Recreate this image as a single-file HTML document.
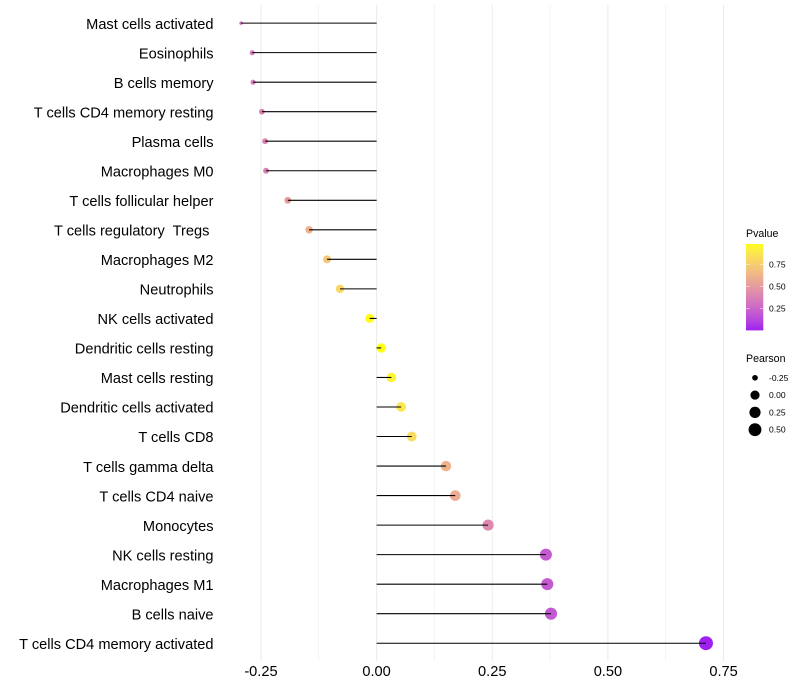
<!DOCTYPE html>
<html>
<head>
<meta charset="utf-8">
<style>
html,body{margin:0;padding:0;background:#fff;width:800px;height:700px;overflow:hidden}
svg{display:block}
text{font-family:"Liberation Sans",sans-serif;white-space:pre}
</style>
</head>
<body>
<svg id="chart" width="800" height="700" viewBox="0 0 800 700" xmlns="http://www.w3.org/2000/svg">
<g id="grid"></g>
<g id="ylabels"></g>
<g id="xlabels"></g>
<g id="marks"></g>
<g id="legend-p">
<defs><linearGradient id="pgrad" x1="0" y1="1" x2="0" y2="0"></linearGradient></defs>
<text x="746" y="237" font-size="10.6" fill="#000">Pvalue</text>
<rect x="746" y="244" width="17.3" height="86.4" fill="url(#pgrad)"></rect>
</g>
<g id="legend-s">
<text x="746" y="362" font-size="10.6" fill="#000">Pearson</text>
</g>
</svg>
<script>
const categories = ["Mast cells activated","Eosinophils","B cells memory","T cells CD4 memory resting","Plasma cells","Macrophages M0","T cells follicular helper","T cells regulatory  Tregs ","Macrophages M2","Neutrophils","NK cells activated","Dendritic cells resting","Mast cells resting","Dendritic cells activated","T cells CD8","T cells gamma delta","T cells CD4 naive","Monocytes","NK cells resting","Macrophages M1","B cells naive","T cells CD4 memory activated"];
const pearson = [-0.293,-0.269,-0.267,-0.248,-0.241,-0.239,-0.192,-0.146,-0.107,-0.079,-0.015,0.010,0.032,0.053,0.076,0.150,0.170,0.241,0.366,0.369,0.377,0.712];
const pvalue = [0.30,0.36,0.36,0.38,0.38,0.38,0.50,0.62,0.72,0.80,0.98,0.99,0.95,0.88,0.82,0.62,0.58,0.42,0.20,0.20,0.19,0.00];
const xTicks = [-0.25,0,0.25,0.5,0.75];
const xMinorTicks = [-0.125,0.125,0.375,0.625];
const xTickLabels = ["-0.25","0.00","0.25","0.50","0.75"];
const colorbarTicks = [0.25,0.5,0.75];
const colorbarLabels = ["0.25","0.50","0.75"];
const sizeTicks = [-0.25,0,0.25,0.5];
const sizeLabels = ["-0.25","0.00","0.25","0.50"];

const NS = "http://www.w3.org/2000/svg";
const x = v => 376.6 + v * 462.6;
const y = i => 23.1 + i * 29.53;
const minP = Math.min(...pearson), maxP = Math.max(...pearson);
const dia = v => 3.5 + 10.5 * Math.sqrt((v - minP) / (maxP - minP));
const cbY = p => 330.4 - p * 87.8;

function el(tag, parent, attrs) {
  const e = document.createElementNS(NS, tag);
  for (const k in attrs) e.setAttribute(k, attrs[k]);
  parent.appendChild(e);
  return e;
}
function toLab(c) {
  const f = u => { u /= 255; return u > 0.04045 ? Math.pow((u + 0.055) / 1.055, 2.4) : u / 12.92; };
  const r = f(c[0]), g = f(c[1]), b = f(c[2]);
  const X = (0.4124 * r + 0.3576 * g + 0.1805 * b) / 0.95047;
  const Y = 0.2126 * r + 0.7152 * g + 0.0722 * b;
  const Z = (0.0193 * r + 0.1192 * g + 0.9505 * b) / 1.08883;
  const h = t => t > 0.008856 ? Math.cbrt(t) : 7.787 * t + 16 / 116;
  return [116 * h(Y) - 16, 500 * (h(X) - h(Y)), 200 * (h(Y) - h(Z))];
}
function fromLab(l) {
  const fy = (l[0] + 16) / 116, fx = fy + l[1] / 500, fz = fy - l[2] / 200;
  const h = t => t * t * t > 0.008856 ? t * t * t : (t - 16 / 116) / 7.787;
  const X = h(fx) * 0.95047, Y = h(fy), Z = h(fz) * 1.08883;
  const lin = [3.2406 * X - 1.5372 * Y - 0.4986 * Z, -0.9689 * X + 1.8758 * Y + 0.0415 * Z, 0.0557 * X - 0.204 * Y + 1.057 * Z];
  const out = lin.map(u => {
    u = Math.max(0, Math.min(1, u));
    return Math.round(255 * (u > 0.0031308 ? 1.055 * Math.pow(u, 1 / 2.4) - 0.055 : 12.92 * u));
  });
  return "rgb(" + out.join(",") + ")";
}
const labLow = toLab([160, 32, 240]), labHigh = toLab([255, 255, 0]);
const color = p => {
  const t = Math.max(0, Math.min(1, p));
  return fromLab(labLow.map((a, i) => a + (labHigh[i] - a) * t));
};

const grid = document.getElementById("grid");
xMinorTicks.forEach(v => {
  const l = el("line", grid, { x1: x(v), x2: x(v), y1: 5, y2: 661, stroke: "#ebebeb", "stroke-width": 0.55 });
  
  
});
xTicks.forEach(v => {
  const l = el("line", grid, { x1: x(v), x2: x(v), y1: 5, y2: 661, stroke: "#ebebeb", "stroke-width": 1.07 });
  
  
});

const xl = document.getElementById("xlabels");
xTicks.forEach((v, i) => {
  const t = el("text", xl, { x: x(v), y: 676, "font-size": 14.6, "text-anchor": "middle", fill: "#000" });
  t.textContent = xTickLabels[i];
  
  
});

const yl = document.getElementById("ylabels");
categories.forEach((c, i) => {
  const t = el("text", yl, { x: 213.5, y: y(i) + 5.7, "font-size": 14.6, "text-anchor": "end", fill: "#000" });
  t.textContent = c;
  
  
});

const marks = document.getElementById("marks");
categories.forEach((c, i) => {
  const pt = el("circle", marks, { cx: x(pearson[i]), cy: y(i), r: dia(pearson[i]) / 2, fill: color(pvalue[i]) });
  
  
  const ln = el("line", marks, { x1: x(0), x2: x(pearson[i]), y1: y(i), y2: y(i), stroke: "#000", "stroke-width": 1.07 });
  
  
});

const grad = document.getElementById("pgrad");
for (let s = 0; s <= 20; s++) {
  el("stop", grad, { offset: s / 20, "stop-color": color(s / 20 * 0.984) });
}
const lp = document.getElementById("legend-p");
colorbarTicks.forEach((p, i) => {
  const a = el("line", lp, { x1: 746, x2: 749.5, y1: cbY(p), y2: cbY(p), stroke: "#fff", "stroke-width": 0.5 });
  
  
  const b = el("line", lp, { x1: 759.8, x2: 763.3, y1: cbY(p), y2: cbY(p), stroke: "#fff", "stroke-width": 0.5 });
  
  
  const t = el("text", lp, { x: 769, y: cbY(p) + 3, "font-size": 8.5, fill: "#000" });
  t.textContent = colorbarLabels[i];
  
  
});

const ls = document.getElementById("legend-s");
sizeTicks.forEach((v, i) => {
  const cy = 377.8 + i * 17.3;
  const c = el("circle", ls, { cx: 755, cy: cy, r: dia(v) / 2, fill: "#000" });
  
  
  const t = el("text", ls, { x: 769, y: cy + 3, "font-size": 8.5, fill: "#000" });
  t.textContent = sizeLabels[i];
  
  
});
</script>
</body>
</html>
